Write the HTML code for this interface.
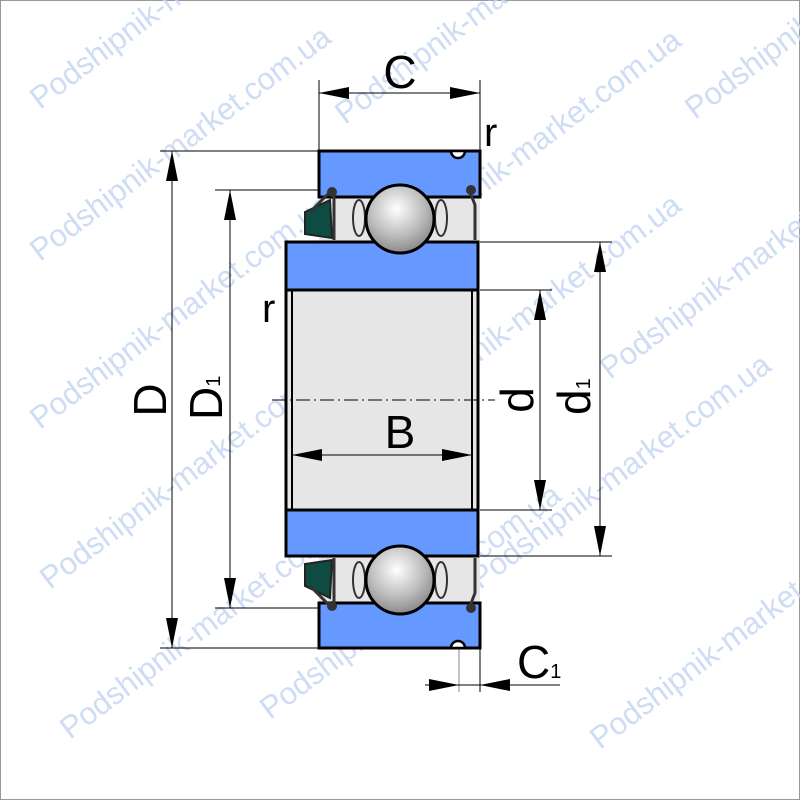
<!DOCTYPE html>
<html><head><meta charset="utf-8"><style>html,body{margin:0;padding:0;background:#fff}svg{display:block}</style></head><body>
<svg width="800" height="800" viewBox="0 0 800 800" xmlns="http://www.w3.org/2000/svg" font-family="Liberation Sans, sans-serif">
<defs>
<radialGradient id="ball" cx="0.45" cy="0.35" r="0.7"><stop offset="0" stop-color="#ffffff"/><stop offset="0.6" stop-color="#b8b8b8"/><stop offset="1" stop-color="#808080"/></radialGradient>
<marker id="ah" markerWidth="30" markerHeight="12" refX="30" refY="6" orient="auto-start-reverse" markerUnits="userSpaceOnUse"><path d="M0,0 L30,6 L0,12 Z" fill="#000"/></marker>
</defs>
<rect x="0.5" y="0.5" width="799" height="799" fill="#fff" stroke="#999"/>
<g fill="#c9d8f3" font-size="31" opacity="0.9">
<text transform="translate(40,110) rotate(-37)">Podshipnik-market.com.ua</text>
<text transform="translate(345,125) rotate(-37)">Podshipnik-market.com.ua</text>
<text transform="translate(695,120) rotate(-37)">Podshipnik-market.com.ua</text>
<text transform="translate(40,262) rotate(-37)">Podshipnik-market.com.ua</text>
<text transform="translate(390,265) rotate(-37)">Podshipnik-market.com.ua</text>
<text transform="translate(610,380) rotate(-37)">Podshipnik-market.com.ua</text>
<text transform="translate(40,430) rotate(-37)">Podshipnik-market.com.ua</text>
<text transform="translate(390,430) rotate(-37)">Podshipnik-market.com.ua</text>
<text transform="translate(50,590) rotate(-37)">Podshipnik-market.com.ua</text>
<text transform="translate(480,590) rotate(-37)">Podshipnik-market.com.ua</text>
<text transform="translate(70,740) rotate(-37)">Podshipnik-market.com.ua</text>
<text transform="translate(270,720) rotate(-37)">Podshipnik-market.com.ua</text>
<text transform="translate(600,750) rotate(-37)">Podshipnik-market.com.ua</text>
</g>
<g stroke="#000" stroke-width="1" fill="none">
<line x1="319" y1="80" x2="319" y2="151"/><line x1="480" y1="80" x2="480" y2="151"/>
<line x1="160" y1="151" x2="319" y2="151"/><line x1="160" y1="648" x2="319" y2="648"/>
<line x1="215" y1="190" x2="330" y2="190"/><line x1="215" y1="608" x2="330" y2="608"/>
<line x1="480" y1="242" x2="612" y2="242"/><line x1="480" y1="556" x2="612" y2="556"/>
<line x1="480" y1="290" x2="552" y2="290"/><line x1="480" y1="510" x2="552" y2="510"/>
<line x1="459" y1="648" x2="459" y2="692" stroke="#888"/><line x1="480" y1="648" x2="480" y2="692"/>
<line x1="425" y1="685" x2="560" y2="685"/>
</g>
<rect x="319" y="197" width="161" height="45" fill="#e6e6e6"/>
<rect x="319" y="556" width="161" height="47" fill="#e6e6e6"/>
<rect x="319" y="151" width="161" height="46" fill="#6699ff" stroke="#000" stroke-width="3"/>
<path d="M451,151 a7,7 0 0 0 14,0 Z" fill="#fff" stroke="#000" stroke-width="2.5"/>
<rect x="319" y="603" width="161" height="45" fill="#6699ff" stroke="#000" stroke-width="3"/>
<path d="M451,648 a7,7 0 0 1 14,0 Z" fill="#fff" stroke="#000" stroke-width="2.5"/>
<g fill="#0e4b42" stroke="#222" stroke-width="2">
<path d="M305,212 L330,200 L332,238 L305,234 Z"/>
<path d="M305,586 L330,598 L332,560 L305,564 Z"/>
</g>
<g fill="none" stroke="#333" stroke-width="3">
<path d="M330,192 L310,212"/><path d="M334,195 L334,240"/>
<path d="M330,606 L310,586"/><path d="M334,603 L334,558"/>
<path d="M470,192 L475,205 L475,240"/><path d="M470,606 L475,593 L475,558"/>
</g>
<g fill="#333"><circle cx="332" cy="192" r="5"/><circle cx="471" cy="190" r="5"/><circle cx="332" cy="606" r="5"/><circle cx="471" cy="608" r="5"/></g>
<g fill="#e6e6e6" stroke="#333" stroke-width="2">
<ellipse cx="359" cy="218" rx="6" ry="18"/><ellipse cx="441" cy="218" rx="6" ry="18"/>
<ellipse cx="359" cy="580" rx="6" ry="18"/><ellipse cx="441" cy="580" rx="6" ry="18"/>
</g>
<rect x="286" y="242" width="192" height="48" fill="#6699ff" stroke="#000" stroke-width="3"/>
<rect x="286" y="510" width="192" height="46" fill="#6699ff" stroke="#000" stroke-width="3"/>
<rect x="286" y="290" width="192" height="220" fill="#e6e6e6" stroke="#000" stroke-width="3"/>
<line x1="292" y1="290" x2="292" y2="510" stroke="#000" stroke-width="2"/>
<line x1="472" y1="290" x2="472" y2="510" stroke="#000" stroke-width="2"/>
<circle cx="400" cy="219" r="34" fill="url(#ball)" stroke="#000" stroke-width="3"/>
<circle cx="400" cy="580" r="34" fill="url(#ball)" stroke="#000" stroke-width="3"/>
<line x1="272" y1="400" x2="495" y2="400" stroke="#000" stroke-width="1" stroke-dasharray="14,4,2,4"/>
<g stroke="#000" stroke-width="1" marker-end="url(#ah)" marker-start="url(#ah)">
<line x1="319" y1="93" x2="480" y2="93"/>
<line x1="172" y1="151" x2="172" y2="648"/>
<line x1="230" y1="190" x2="230" y2="608"/>
<line x1="600" y1="242" x2="600" y2="556"/>
<line x1="540" y1="290" x2="540" y2="510"/>
<line x1="292" y1="455" x2="472" y2="455"/>
</g>
<line x1="425" y1="685" x2="459" y2="685" stroke="#000" marker-end="url(#ah)"/>
<line x1="515" y1="685" x2="480" y2="685" stroke="#000" marker-end="url(#ah)"/>
<g fill="#000" font-size="46">
<text x="400" y="88" text-anchor="middle">C</text>
<text x="400" y="448" text-anchor="middle">B</text>
<text x="484" y="146" font-size="40">r</text>
<text x="262" y="322" font-size="40">r</text>
<text transform="translate(166,400) rotate(-90)" text-anchor="middle">D</text>
<text transform="translate(222,420) rotate(-90)">D<tspan font-size="20" dy="-2">1</tspan></text>
<text transform="translate(533,400) rotate(-90)" text-anchor="middle">d</text>
<text transform="translate(590,415) rotate(-90)">d<tspan font-size="20">1</tspan></text>
<text x="517" y="678">C<tspan font-size="20">1</tspan></text>
</g>
</svg>
</body></html>
